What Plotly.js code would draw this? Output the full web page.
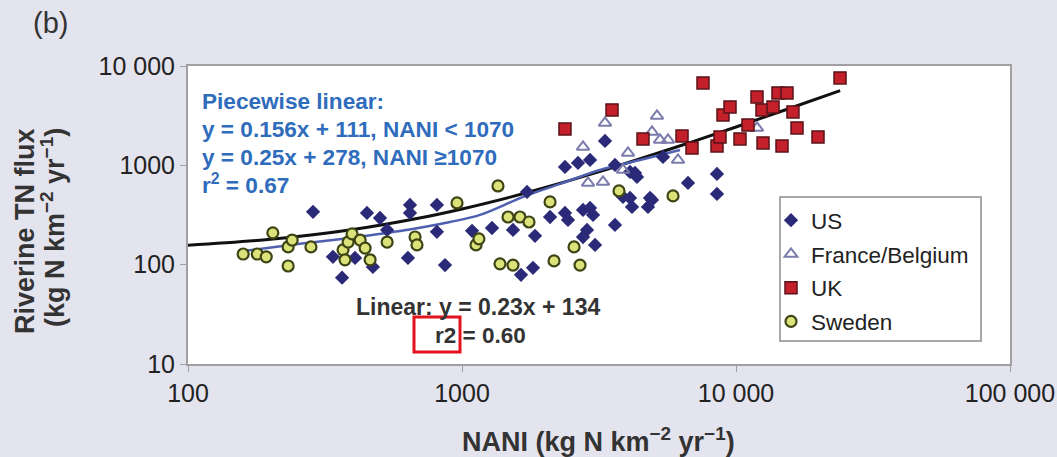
<!DOCTYPE html>
<html>
<head>
<meta charset="utf-8">
<script src="https://cdn.plot.ly/plotly-3.0.1.min.js"></script>
<style>html,body{margin:0;padding:0;background:#e4e4ee;}#chart{width:1057px;height:457px;}</style>
</head>
<body>
<div id="chart"></div>
<script>
// ---- data ----
const usX = [286,450,502,646,646,810,533,810,1088,1287,1535,1847,338,407,473,365,635,867,1816,1642,2096,2376,2437,2765,2933,3008,2859,2765,3059,3617,3869,4173,4773,4936,2376,2651,2933,3617,4104,4280,4352,5415,3326,6681,8524,8524,1727,4104,4854];
const usY = [340,332,295,399,332,399,224,214,219,234,224,195,120,117,95,74,117,99,93,79,302,332,282,356,372,317,224,190,158,251,481,381,381,448,964,1057,1133,1009,859,839,764,1215,1761,665,820,515,540,470,470];

const frX = [3326,5148,4936,5281,5648,6142,2765,4035,2884,3270,3869,11930];
const frY = [2673,3144,2169,1802,1802,1133,1532,1333,665,681,899,2381];

const ukX = [2376,3528,4577,6353,6909,7578,8524,8742,8966,9509,10342,11060,11930,12440,12550,13650,14230,14720,15350,16140,16700,19920,23970];
const ukY = [2326,3613,1845,1978,1497,6757,1568,1932,3217,3873,1845,2551,4885,3613,1681,3873,5358,1568,5358,3450,2381,1932,7590];

const swX = [159,179,193,204,232,232,240,281,368,384,397,425,443,462,374,533,674,685,959,1125,1153,1353,1472,1628,1756,2096,2564,2167,1376,1535,2696,3741,5890];
const swY = [128,128,120,209,151,97,177,151,141,169,204,177,147,112,112,169,190,158,418,158,182,620,302,302,269,428,151,109,102,99,99,552,492];

// fitted lines
const linearX = [100,200,400,700,1000,1500,2000,3000,5000,7000,10000,15000,24000];
const linearY = [157,180,226,295,364,479,594,824,1284,1744,2434,3584,5654];
const pieceX = [159,256,390,594,904,1163,1670,2279,3188,4463,6246];
const pieceY = [137,162,186,218,269,317,481,650,899,1133,1429];

const xTickVals = [100,1000,10000,100000];
const xTickText = ['100','1000','10 000','100 000'];
const yTickVals = [10,100,1000,10000];
const yTickText = ['10','100','1000','10 000'];

const FONT = 'Arial, "Liberation Sans", sans-serif';
const BLUE_TXT = '#2f6cbc';
const DARK = '#333333';

const traces = [
  {x: linearX, y: linearY, mode: 'lines', line: {color: '#111111', width: 3, shape: 'spline'}, showlegend: false, hoverinfo: 'skip'},
  {x: pieceX, y: pieceY, mode: 'lines', line: {color: '#5060b0', width: 2.5, shape: 'spline'}, showlegend: false, hoverinfo: 'skip'},
  {x: usX, y: usY, name: 'US', legendgroup: 'a', mode: 'markers', type: 'scatter',
   marker: {symbol: 'diamond', size: 11, color: '#2b2a78', line: {width: 0}}},
  {x: frX, y: frY, name: 'France/Belgium', legendgroup: 'b', mode: 'markers', type: 'scatter',
   marker: {symbol: 'triangle-up-open', size: 11, color: '#7b7cab', line: {width: 2, color: '#7b7cab'}}},
  {x: ukX, y: ukY, name: 'UK', legendgroup: 'c', mode: 'markers', type: 'scatter',
   marker: {symbol: 'square', size: 12, color: '#c3202c', line: {width: 1.5, color: '#5a1218'}}},
  {x: swX, y: swY, name: 'Sweden', legendgroup: 'd', mode: 'markers', type: 'scatter',
   marker: {symbol: 'circle', size: 11, color: '#dbe27a', line: {width: 2.2, color: '#3d4415'}}}
];

const W = 822, H = 298; // plot area size in px
function px(xp){ return (xp - 188) / W; }
function py(yp){ return (364 - yp) / H; }

const annFont = {family: FONT, size: 22.6, color: BLUE_TXT};
function note(x, y, text, font, xanchor, extra){
  return Object.assign({xref: 'paper', yref: 'paper', x: px(x), y: py(y), xanchor: xanchor || 'left', yanchor: 'middle',
                        showarrow: false, text: text, font: font}, extra || {});
}
const layout = {
  width: 1057, height: 457,
  paper_bgcolor: '#e4e4ee', plot_bgcolor: '#ffffff',
  margin: {l: 188, r: 47, t: 66, b: 93, pad: 0},
  font: {family: FONT, color: '#222222'},
  showlegend: true,
  legend: {x: px(771), y: py(199), xanchor: 'left', yanchor: 'top', bgcolor: 'rgba(0,0,0,0)',
           borderwidth: 0, tracegroupgap: 1.5,
           font: {family: FONT, size: 22.5, color: '#222222'}},
  xaxis: {type: 'log', range: [2, 5], tickvals: xTickVals, ticktext: xTickText,
          showgrid: false, zeroline: false, showline: true, linecolor: '#a0a0a0', linewidth: 2, mirror: true,
          ticks: 'outside', ticklen: 6, tickcolor: '#a0a0a0', tickwidth: 1,
          tickfont: {family: FONT, size: 25, color: '#222222'}},
  yaxis: {type: 'log', range: [1, 4], tickvals: yTickVals, ticktext: yTickText,
          showgrid: false, zeroline: false, showline: true, linecolor: '#a0a0a0', linewidth: 2, mirror: true,
          ticks: 'outside', ticklen: 6, tickcolor: '#a0a0a0', tickwidth: 1,
          tickfont: {family: FONT, size: 25, color: '#222222'}},
  annotations: [
    note(31, 23, '(b)', {family: FONT, size: 29, color: DARK}),
    note(598, 440, '<b>NANI (kg N km<sup>−2</sup> yr<sup>−1</sup>)</b>', {family: FONT, size: 27, color: DARK}, 'center'),
    note(25, 231, '<b>Riverine TN flux</b>', {family: FONT, size: 27, color: DARK}, 'center', {textangle: -90}),
    note(53, 228, '<b>(kg N km<sup>−2</sup> yr<sup>−1</sup>)</b>', {family: FONT, size: 27, color: DARK}, 'center', {textangle: -90}),
    note(200, 101, '<b>Piecewise linear:</b>', annFont),
    note(200, 129, '<b>y = 0.156x + 111, NANI &lt; 1070</b>', annFont),
    note(200, 157, '<b>y = 0.25x + 278, NANI ≥1070</b>', annFont),
    note(200, 184, '<b>r<sup>2</sup> = 0.67</b>', annFont),
    note(478, 307, '<b>Linear: y = 0.23x + 134</b>', {family: FONT, size: 23, color: DARK}, 'center'),
    note(433, 335, '<b>r2 = 0.60</b>', {family: FONT, size: 22.5, color: DARK})
  ],
  shapes: [
    {type: 'rect', xref: 'paper', yref: 'paper', x0: px(780), x1: px(981), y0: py(341), y1: py(197),
     line: {color: '#a8a8a8', width: 2}, fillcolor: '#ffffff', layer: 'above'},
    {type: 'rect', xref: 'paper', yref: 'paper', x0: px(414), x1: px(460), y0: py(352), y1: py(317),
     line: {color: '#e3121c', width: 3}, fillcolor: 'rgba(0,0,0,0)', layer: 'above'}
  ]
};

Plotly.newPlot('chart', traces, layout, {displayModeBar: false, staticPlot: true});
</script>
</body>
</html>
